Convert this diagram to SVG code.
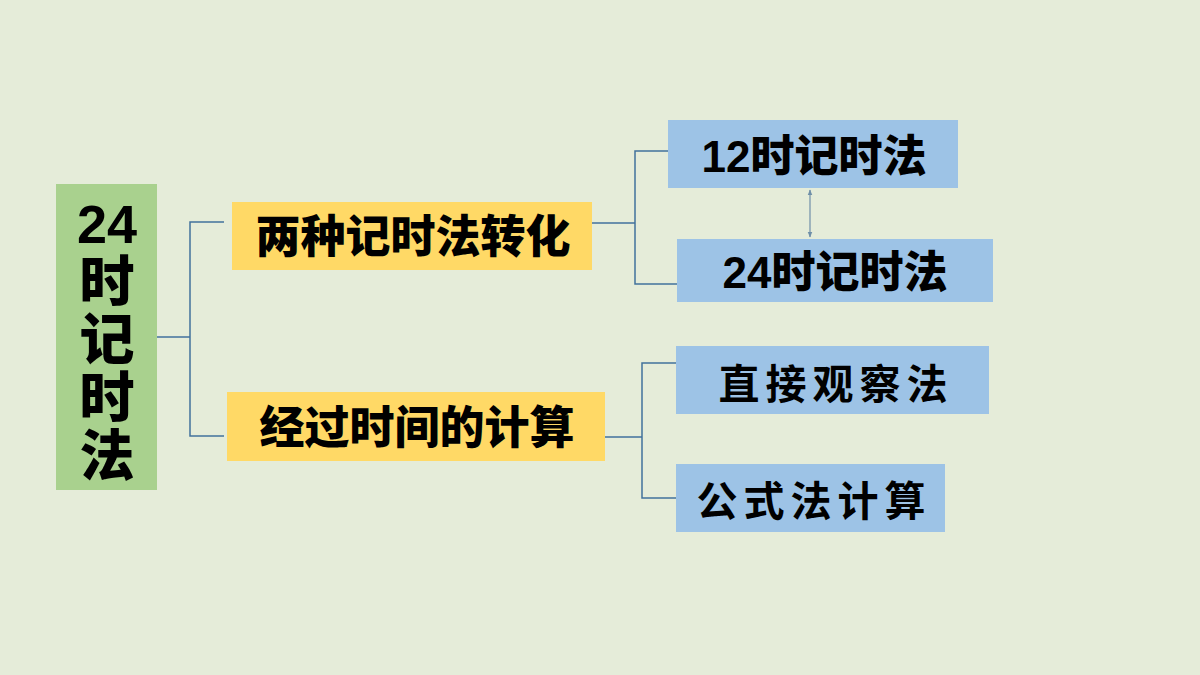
<svg xmlns="http://www.w3.org/2000/svg" width="1200" height="675" viewBox="0 0 1200 675">
<defs>
<style>
.t{font-family:"Liberation Sans","Noto Sans CJK SC",sans-serif;font-weight:900;fill:#000;text-anchor:middle;dominant-baseline:central}
.k{font-family:"Noto Sans CJK SC",sans-serif;font-weight:bold;fill:#000;text-anchor:middle;dominant-baseline:central;letter-spacing:6px}
.ln{fill:none;stroke:#41719c;stroke-width:1.5}
.ar{fill:none;stroke:#6f8fa8;stroke-width:1.2}
</style>
<marker id="ah" viewBox="0 0 10 10" refX="9" refY="5" markerWidth="5" markerHeight="5" orient="auto-start-reverse">
<path d="M0,1 L10,5 L0,9 z" fill="#6f8fa8"/>
</marker>
</defs>
<rect width="1200" height="675" fill="#e5ecd9"/>
<g id="connectors">
<polyline class="ln" points="157,337 190,337"/>
<polyline class="ln" points="224,222 190,222 190,436 224,436"/>
<polyline class="ln" points="592,223 635,223"/>
<polyline class="ln" points="668,151 635,151 635,284 677,284"/>
<polyline class="ln" points="605,437 642,437"/>
<polyline class="ln" points="676,363 642,363 642,498 676,498"/>
<line class="ar" x1="810" y1="190" x2="810" y2="237" marker-start="url(#ah)" marker-end="url(#ah)"/>
</g>
<g id="root">
<rect x="56" y="184" width="101" height="306" fill="#a9d18e"/>
<text class="t" x="107" y="224" font-size="54">24</text>
<text class="t" x="107" y="282" font-size="55">时</text>
<text class="t" x="107" y="340" font-size="55">记</text>
<text class="t" x="107" y="398" font-size="55">时</text>
<text class="t" x="107" y="456" font-size="55">法</text>
</g>
<g id="convert">
<rect x="232" y="202" width="360" height="68" fill="#ffd966"/>
<text class="t" x="413" y="237" font-size="45">两种记时法转化</text>
</g>
<g id="elapsed">
<rect x="227" y="392" width="378" height="69" fill="#ffd966"/>
<text class="t" x="417" y="428" font-size="45">经过时间的计算</text>
</g>
<g id="h12">
<rect x="668" y="120" width="290" height="68" fill="#9dc3e6"/>
<text class="t" x="814" y="156" font-size="44">12时记时法</text>
</g>
<g id="h24">
<rect x="677" y="239" width="316" height="63" fill="#9dc3e6"/>
<text class="t" x="835" y="272" font-size="44">24时记时法</text>
</g>
<g id="direct">
<rect x="676" y="346" width="313" height="68" fill="#9dc3e6"/>
<text class="k" x="836" y="381" font-size="41">直接观察法</text>
</g>
<g id="formula">
<rect x="676" y="464" width="269" height="68" fill="#9dc3e6"/>
<text class="k" x="814" y="498" font-size="41">公式法计算</text>
</g>
</svg>
